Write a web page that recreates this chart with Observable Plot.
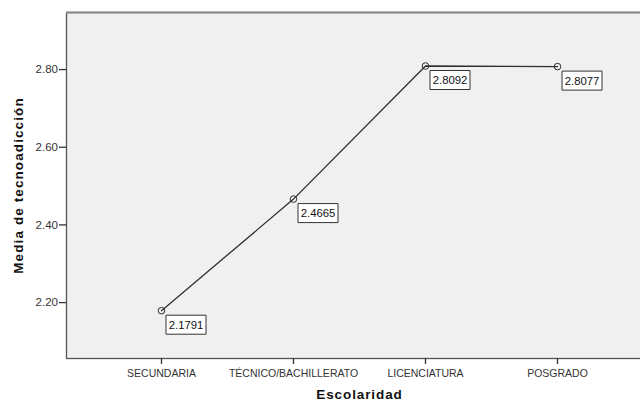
<!DOCTYPE html>
<html>
<head>
<meta charset="utf-8">
<script src="https://cdn.jsdelivr.net/npm/d3@7"></script>
<script src="https://cdn.jsdelivr.net/npm/@observablehq/plot@0.6"></script>
<style>
  html, body { margin: 0; padding: 0; background: #ffffff; overflow: hidden; }
  #chart svg { overflow: hidden; }
</style>
</head>
<body>
<div id="chart"></div>
<script>
const categories = ["SECUNDARIA", "TÉCNICO/BACHILLERATO", "LICENCIATURA", "POSGRADO"];
const means = [2.1791, 2.4665, 2.8092, 2.8077];
const yTicks = [2.20, 2.40, 2.60, 2.80];
const xTitle = "Escolaridad";
const yTitle = "Media de tecnoadicción";
const yDomain = [2.056, 2.947];

const data = categories.map((c, i) => ({cat: c, mean: means[i]}));

const boxSymbol = {
  draw(context) {
    context.rect(4.5, 4.5, 40, 19);
  }
};

const chart = Plot.plot({
  width: 640,
  height: 402,
  marginLeft: 66,
  marginRight: -12,
  marginTop: 12,
  marginBottom: 44,
  style: {fontFamily: "'Liberation Sans', Arial, sans-serif", background: "#ffffff", color: "#333"},
  x: {type: "point", domain: categories, range: [161, 557], padding: 0, label: null},
  y: {domain: yDomain, label: null},
  marks: [
    Plot.frame({fill: "#f0f0f0", stroke: "#555", strokeWidth: 1.3}),
    Plot.ruleY([yDomain[1]], {stroke: "#8a8a8a", strokeWidth: 2}),
    Plot.axisY({ticks: yTicks, tickFormat: d3.format(".2f"), tickSize: 7, tickPadding: 1.5, fontSize: 11.5, stroke: "#333", strokeWidth: 1.3, label: null}),
    Plot.axisX({tickSize: 6, tickPadding: 5, fontSize: 10.5, stroke: "#333", strokeWidth: 1.3, label: null}),
    Plot.line(data, {x: "cat", y: "mean", stroke: "#2e2e2e", strokeWidth: 1.3}),
    Plot.dot(data, {x: "cat", y: "mean", r: 3.3, stroke: "#2e2e2e", strokeWidth: 1, fill: "none"}),
    Plot.dot(data, {x: "cat", y: "mean", symbol: boxSymbol, fill: "#ffffff", stroke: "#333", strokeWidth: 1}),
    Plot.text(data, {x: "cat", y: "mean", text: d => d.mean.toFixed(4), dx: 24.5, dy: 14.5, fontSize: 11.3, fill: "#111"}),
    Plot.text([xTitle], {frameAnchor: "bottom", textAnchor: "middle", dy: 40, lineAnchor: "bottom", fontSize: 13.5, fontWeight: "bold", fill: "#111"}),
    Plot.text([yTitle], {frameAnchor: "left", textAnchor: "middle", dx: -48, rotate: -90, fontSize: 13.5, fontWeight: "bold", fill: "#111"})
  ]
});

document.getElementById("chart").appendChild(chart);

// letter spacing for axis titles
d3.select(chart).selectAll("text").filter(function() {
  const t = this.textContent;
  return t === xTitle || t === yTitle;
}).attr("letter-spacing", function() { return this.textContent === yTitle ? "1.1px" : "0.9px"; });
</script>
</body>
</html>
